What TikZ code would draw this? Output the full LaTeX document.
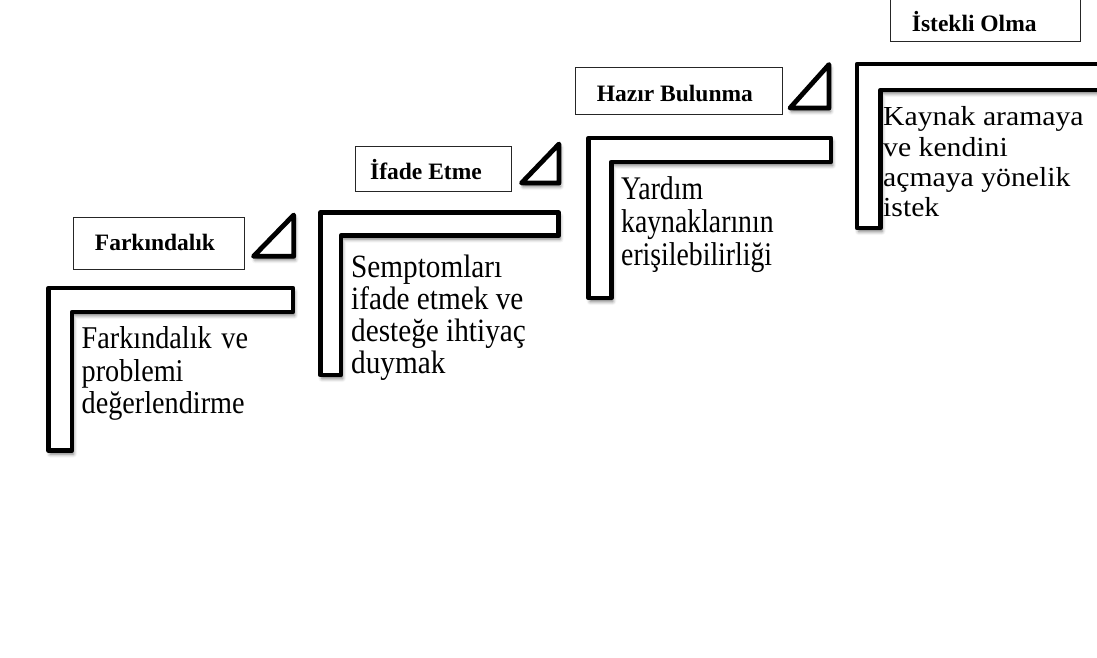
\documentclass[tikz,border=0pt]{standalone}
\usepackage{fontspec}
\setmainfont{Liberation Serif}
\usepackage{graphicx}
\usetikzlibrary{shadows.blur}
\newcommand\blocktext[2]{\scalebox{#1}[1]{\begin{tabular}[t]{@{}l@{}}#2\end{tabular}}}
\begin{document}
\begin{tikzpicture}[x=1pt,y=-1pt,
  stepshape/.style={draw=black, line width=4.8pt, line join=round, fill=white,
    blur shadow={shadow xshift=1.5pt, shadow yshift=-3.5pt, shadow blur radius=3.5pt, shadow opacity=55}},
  triangleshape/.style={stepshape},
  labelbox/.style={draw=black!85, line width=1pt, fill=white},
  labeltext/.style={anchor=base west, inner sep=0pt, font=\fontsize{23.5}{28}\selectfont\bfseries},
  bodytext/.style={anchor=base west, inner sep=0pt}
]
\useasboundingbox (0,0) rectangle (1097,657);
\clip (0,0) rectangle (1097,657);

% step shapes
\draw[stepshape] (48.5,288) -- (293,288) -- (293,312) -- (72,312) -- (72,450.5) -- (48.5,450.5) -- cycle;
\draw[stepshape] (320.3,212.7) -- (558.7,212.7) -- (558.7,235.7) -- (341,235.7) -- (341,375) -- (320.3,375) -- cycle;
\draw[stepshape] (588.7,138) -- (831,138) -- (831,162) -- (611.3,162) -- (611.3,298) -- (588.7,298) -- cycle;
\draw[stepshape] (857,64) -- (1120,64) -- (1120,90) -- (880.5,90) -- (880.5,228) -- (857,228) -- cycle;

% triangles
\draw[triangleshape] (293.7,215) -- (293.7,256.3) -- (253.5,256.3) -- cycle;
\draw[triangleshape] (559,144) -- (559,183) -- (521.5,183) -- cycle;
\draw[triangleshape] (829,64.5) -- (829,108) -- (790,108) -- cycle;

% label boxes
\draw[labelbox] (73,217.7) rectangle (244,269);
\draw[labelbox] (355.7,146) rectangle (511,191.7);
\draw[labelbox] (575,67.3) rectangle (782.3,114);
\draw[labelbox] (890.7,-5) rectangle (1080.7,41.7);

\node[labeltext] (l1) at (94.7,250.7) {Farkındalık};
\node[labeltext] (l2) at (370,179) {İfade Etme};
\node[labeltext] (l3) at (596.7,101) {Hazır Bulunma};
\node[labeltext] (l4) at (911.7,31.7) {İstekli Olma};

% body texts
\node[bodytext, font=\fontsize{31.7}{32.5}\selectfont] (b1) at (81.5,348.5)
  {\blocktext{0.89}{Farkındalık\hspace{3pt} ve\\problemi\\değerlendirme}};
\node[bodytext, font=\fontsize{32.5}{31.7}\selectfont] (b2) at (351,277)
  {\blocktext{0.9}{Semptomları\\ifade etmek ve\\desteğe ihtiyaç\\duymak}};
\node[bodytext, font=\fontsize{33}{33}\selectfont] (b3) at (621,199.5)
  {\blocktext{0.84}{Yardım\\kaynaklarının\\erişilebilirliği}};
\node[bodytext, font=\fontsize{27.5}{30.3}\selectfont] (b4) at (883,125.7)
  {\blocktext{1.08}{Kaynak aramaya\\ve kendini\\açmaya yönelik\\istek}};
\end{tikzpicture}
\end{document}
